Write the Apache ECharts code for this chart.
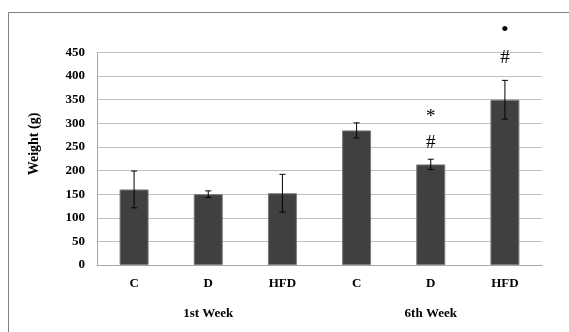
<!DOCTYPE html>
<html>
<head>
<meta charset="utf-8">
<script src="https://cdn.jsdelivr.net/npm/echarts@6/dist/echarts.min.js"></script>
<style>html,body{margin:0;padding:0;background:#fff;}#c{width:569px;height:332px;}</style>
</head>
<body>
<div id="c"></div>
<script>
var categories = ['C', 'D', 'HFD', 'C', 'D', 'HFD'];
var weeks = ['1st Week', '6th Week'];
var means = [160, 150, 152, 285, 213, 350];
var errors = [39, 7, 40, 16, 11, 41];
var yTicks = [0, 50, 100, 150, 200, 250, 300, 350, 400, 450];
// significance marks: [category index, value, symbol]
var marks = [[4, 314, '*'], [4, 258, '#'], [5, 497, '\u2022'], [5, 438, '#']];

var chart = echarts.init(document.getElementById('c'));
var serif = '"Liberation Serif", "Times New Roman", serif';
var errData = means.map(function (m, i) { return [i, m - errors[i], m + errors[i]]; });

chart.setOption({
  animation: false,
  backgroundColor: '#fff',
  grid: { left: 97, right: 27, top: 52.5, bottom: 67 },
  xAxis: [{
    type: 'category',
    data: categories,
    axisLine: { lineStyle: { color: '#a6a6a6', width: 1 } },
    axisTick: { show: false },
    axisLabel: { color: '#000', fontFamily: serif, fontWeight: 'bold', fontSize: 13, margin: 12 }
  }, {
    type: 'category',
    data: weeks,
    position: 'bottom',
    offset: 30,
    axisLine: { show: false },
    axisTick: { show: false },
    axisLabel: { color: '#000', fontFamily: serif, fontWeight: 'bold', fontSize: 13, margin: 12 }
  }],
  yAxis: {
    type: 'value',
    min: yTicks[0],
    max: yTicks[yTicks.length - 1],
    interval: 50,
    axisLine: { show: true, lineStyle: { color: '#a6a6a6', width: 1 } },
    axisTick: { show: false },
    splitLine: { lineStyle: { color: '#c0c0c0', width: 1 } },
    axisLabel: { color: '#000', fontFamily: serif, fontWeight: 'bold', fontSize: 13, margin: 12 }
  },
  graphic: [
    { type: 'rect', shape: { x: 8.5, y: 12.5, width: 600, height: 340 }, style: { fill: 'none', stroke: '#7f7f7f', lineWidth: 1 }, z: -1 },
    { type: 'text', x: 34, y: 144, rotation: Math.PI / 2, style: { text: 'Weight (g)', fill: '#000', font: 'bold 14px ' + serif, textAlign: 'center', textVerticalAlign: 'middle' } }
  ],
  series: [{
    type: 'bar',
    data: means,
    barWidth: 29,
    itemStyle: { color: '#404040', borderColor: '#7a7a7a', borderWidth: 1 },
    z: 2
  }, {
    type: 'custom',
    data: errData,
    z: 3,
    renderItem: function (params, api) {
      var lo = api.coord([api.value(0), api.value(1)]);
      var hi = api.coord([api.value(0), api.value(2)]);
      var w = 3;
      var st = { stroke: '#000', lineWidth: 1 };
      return { type: 'group', children: [
        { type: 'line', shape: { x1: hi[0], y1: hi[1], x2: lo[0], y2: lo[1] }, style: st },
        { type: 'line', shape: { x1: hi[0] - w, y1: hi[1], x2: hi[0] + w, y2: hi[1] }, style: st },
        { type: 'line', shape: { x1: lo[0] - w, y1: lo[1], x2: lo[0] + w, y2: lo[1] }, style: st }
      ] };
    }
  }, {
    type: 'custom',
    data: marks,
    clip: false,
    z: 4,
    renderItem: function (params, api) {
      var p = api.coord([api.value(0), api.value(1)]);
      var m = marks[params.dataIndex];
      var isDot = m[2] === '\u2022';
      return { type: 'text', x: p[0], y: p[1], style: {
        text: m[2], fill: '#000', textAlign: 'center', textVerticalAlign: 'middle',
        font: (isDot ? '22px ' : '19px ') + serif
      } };
    }
  }]
});
</script>
</body>
</html>
